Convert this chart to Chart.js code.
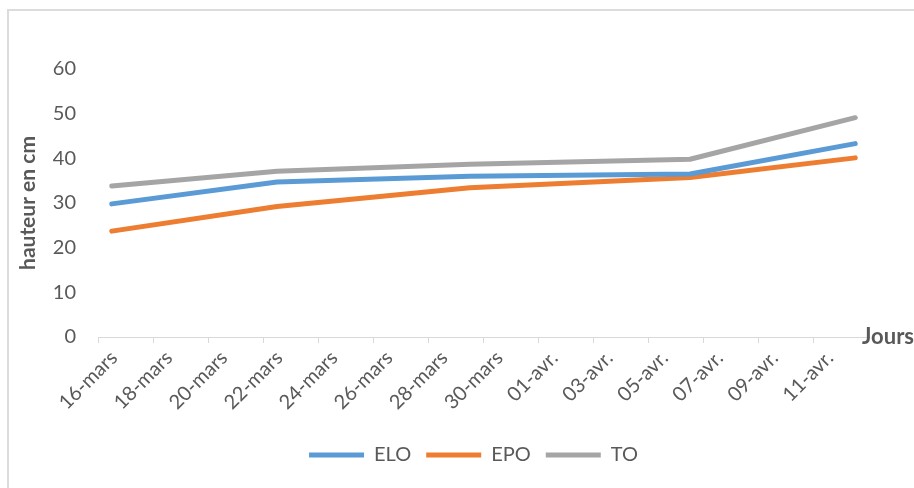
<!DOCTYPE html>
<html>
<head>
<meta charset="utf-8">
<script src="https://cdn.jsdelivr.net/npm/chart.js@4/dist/chart.umd.min.js"></script>
<style>
  html, body { margin: 0; padding: 0; background: #fff; overflow: hidden; }
  #frame { position: absolute; left: 7px; top: 9px; width: 1000px; height: 600px;
           border: 2px solid #dcdcdc; box-sizing: border-box; }
  #wrap { position: absolute; left: 0; top: 0; width: 914px; height: 488px; }
</style>
</head>
<body>
<div id="frame"></div>
<div id="wrap"><canvas id="chart" width="914" height="488"></canvas></div>
<script>
// Measurement dates (day-month, as labelled on the axis)
const measureDates = ['16-mars', '22-mars', '29-mars', '06-avr.', '12-avr.'];

// Plant height (cm) per treatment
const elo = [29.8, 34.7, 36.0, 36.5, 43.3];
const epo = [23.7, 29.2, 33.4, 35.7, 40.1];
const to  = [33.8, 37.1, 38.7, 39.8, 49.1];

// Date-axis labels, one every two days
const tickLabels = ['16-mars', '18-mars', '20-mars', '22-mars', '24-mars', '26-mars', '28-mars',
                    '30-mars', '01-avr.', '03-avr.', '05-avr.', '07-avr.', '09-avr.', '11-avr.'];

const seriesNames = ['ELO', 'EPO', 'TO'];
const seriesColors = ['#5b9bd5', '#ed7d31', '#a5a5a5'];

// Day offset from 16 March; each point sits in the middle of its day slot
function dayIndex(label) {
  const [d, m] = label.split('-');
  return (m.startsWith('avr') ? 31 : 0) + parseInt(d, 10) - 16;
}
const xs = measureDates.map(l => dayIndex(l) + 0.5);
const toPoints = vals => vals.map((v, i) => ({ x: xs[i], y: v }));

const TXT = '#595959';
const FONT = 'Lato, "Open Sans", sans-serif';

// Axis name written at the far end of the date axis
const axisEndTitle = {
  id: 'axisEndTitle',
  afterDraw(chart) {
    const xs = chart.scales.x;
    const ctx = chart.ctx;
    ctx.save();
    ctx.font = 'bold 22px ' + FONT;
    ctx.fillStyle = TXT;
    ctx.textBaseline = 'middle';
    ctx.textAlign = 'left';
    ctx.fillText('Jours', xs.right - 7, xs.top);
    ctx.restore();
  }
};

// Nudge the legend row to sit under the middle of the plot
const legendShift = {
  id: 'legendShift',
  afterLayout(chart) {
    const lg = chart.legend;
    if (lg) { lg.left += 35; lg.right += 35; }
  }
};

new Chart(document.getElementById('chart'), {
  type: 'line',
  data: {
    datasets: [elo, epo, to].map((vals, i) => ({
      label: seriesNames[i],
      data: toPoints(vals),
      borderColor: seriesColors[i],
      backgroundColor: seriesColors[i],
      borderWidth: 5,
      borderCapStyle: 'round',
      borderJoinStyle: 'round',
      pointRadius: 0,
      pointHoverRadius: 0,
      tension: 0,
      fill: false
    }))
  },
  options: {
    responsive: false,
    animation: false,
    layout: { padding: { left: 8, right: 45, top: 69, bottom: 13 } },
    scales: {
      x: {
        type: 'linear',
        min: 0,
        max: 28,
        afterFit(s) { s.height = 93; },
        border: { display: true, color: '#d9d9d9', width: 1 },
        grid: { drawOnChartArea: false, color: '#d9d9d9', tickLength: 6, lineWidth: 1 },
        ticks: {
          stepSize: 2,
          autoSkip: false,
          maxRotation: 45,
          minRotation: 45,
          labelOffset: 16,
          padding: 3,
          color: TXT,
          font: { family: FONT, size: 20 },
          callback: v => { const t = tickLabels[v / 2]; return t === undefined ? null : t; }
        }
      },
      y: {
        min: 0,
        max: 60,
        afterFit(s) { s.width = 90; },
        border: { display: false },
        grid: { display: false, drawTicks: false },
        ticks: { stepSize: 10, padding: 22, color: TXT, font: { family: FONT, size: 20 } },
        title: {
          display: true,
          text: 'hauteur en cm',
          color: TXT,
          font: { family: FONT, size: 21, weight: 'bold' },
          padding: { top: 8, bottom: 0 }
        }
      }
    },
    plugins: {
      legend: {
        position: 'bottom',
        labels: {
          usePointStyle: true,
          pointStyle: 'line',
          pointStyleWidth: 55,
          padding: 15,
          color: TXT,
          font: { family: FONT, size: 20 }
        }
      },
      tooltip: { enabled: false }
    }
  },
  plugins: [axisEndTitle, legendShift]
});
</script>
</body>
</html>
